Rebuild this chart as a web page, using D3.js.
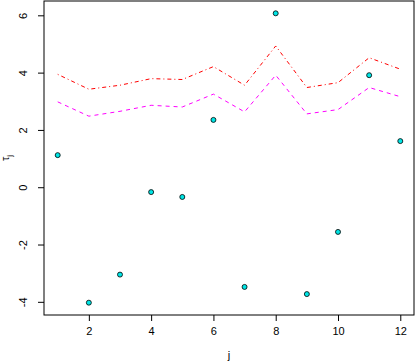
<!DOCTYPE html>
<html>
<head>
<meta charset="utf-8">
<script src="https://cdn.jsdelivr.net/npm/d3@7"></script>
<style>
  body { margin: 0; background: #fff; }
  svg { display: block; }
  text { font-family: "Liberation Sans", Arial, sans-serif; }
</style>
</head>
<body>
<div id="chart"></div>
<script>
// Data
var jValues = [1, 2, 3, 4, 5, 6, 7, 8, 9, 10, 11, 12];
var tauValues = [1.12, -4.03, -3.05, -0.17, -0.34, 2.35, -3.48, 6.07, -3.73, -1.56, 3.91, 1.61];
var upperRed = [3.94, 3.42, 3.56, 3.79, 3.76, 4.21, 3.56, 4.93, 3.48, 3.65, 4.52, 4.12];
var upperMagenta = [2.98, 2.48, 2.65, 2.86, 2.80, 3.25, 2.63, 3.91, 2.56, 2.71, 3.48, 3.16];
var xTicks = [2, 4, 6, 8, 10, 12];
var yTicks = [-4, -2, 0, 2, 4, 6];

var svgWidth = 415;
var svgHeight = 362;

var margin = { top: 1, right: 1, bottom: 47, left: 44 };
var width = svgWidth - margin.left - margin.right;
var height = svgHeight - margin.top - margin.bottom;

var svg = d3.select("#chart")
    .append("svg")
    .attr("width", svgWidth)
    .attr("height", svgHeight);

var chartGroup = svg.append("g")
    .attr("transform", `translate(${margin.left},${margin.top})`);

// R style 4% padding around the data range
var xLinearScale = d3.scaleLinear()
    .domain([0.56, 12.44])
    .range([0, width]);

var yLinearScale = d3.scaleLinear()
    .domain([-4.46, 6.5])
    .range([height, 0]);

// axes
var bottomAxis = d3.axisBottom(xLinearScale)
    .tickValues(xTicks)
    .tickSize(6)
    .tickPadding(6)
    .tickFormat(d3.format("d"));

var leftAxis = d3.axisLeft(yLinearScale)
    .tickValues(yTicks)
    .tickSize(6)
    .tickPadding(4)
    .tickFormat(d => String(d));

var xAxis = chartGroup.append("g")
    .attr("transform", `translate(0,${height})`)
    .call(bottomAxis);
xAxis.select(".domain").remove();
xAxis.selectAll("text").attr("font-size", 11).attr("fill", "#000");

var yAxis = chartGroup.append("g")
    .call(leftAxis);
yAxis.select(".domain").remove();
yAxis.selectAll(".tick text")
    .attr("font-size", 11)
    .attr("fill", "#000")
    .attr("text-anchor", "middle")
    .attr("x", 0)
    .attr("dy", 0)
    .attr("transform", "translate(-17,0) rotate(-90)");

// box around plot
chartGroup.append("rect")
    .attr("x", 0)
    .attr("y", 0)
    .attr("width", width)
    .attr("height", height)
    .attr("fill", "none")
    .attr("stroke", "#000")
    .attr("stroke-width", 1);

// dashed lines
var line = d3.line()
    .x((d, i) => xLinearScale(jValues[i]))
    .y(d => yLinearScale(d));

chartGroup.append("path")
    .datum(upperRed)
    .attr("d", line)
    .attr("fill", "none")
    .attr("stroke", "#ff0000")
    .attr("stroke-width", 1)
    .attr("stroke-dasharray", "1,3,4,3");

chartGroup.append("path")
    .datum(upperMagenta)
    .attr("d", line)
    .attr("fill", "none")
    .attr("stroke", "#ff00ff")
    .attr("stroke-width", 1)
    .attr("stroke-dasharray", "4,4");

// points
chartGroup.selectAll("circle")
    .data(tauValues)
    .enter()
    .append("circle")
    .attr("cx", (d, i) => xLinearScale(jValues[i]))
    .attr("cy", d => yLinearScale(d))
    .attr("r", 2.5)
    .attr("fill", "#00e5e5")
    .attr("stroke", "#000")
    .attr("stroke-width", 0.8);

// axis labels
chartGroup.append("text")
    .attr("x", width / 2)
    .attr("y", height + 44)
    .attr("text-anchor", "middle")
    .attr("font-size", 11)
    .text("j");

var yLabel = svg.append("text")
    .attr("transform", `translate(9,${margin.top + height / 2}) rotate(-90)`)
    .attr("text-anchor", "middle")
    .attr("font-size", 11);
yLabel.append("tspan").text("\u03c4");
yLabel.append("tspan").attr("font-size", 8).attr("dy", 3).text("j");
</script>
</body>
</html>
